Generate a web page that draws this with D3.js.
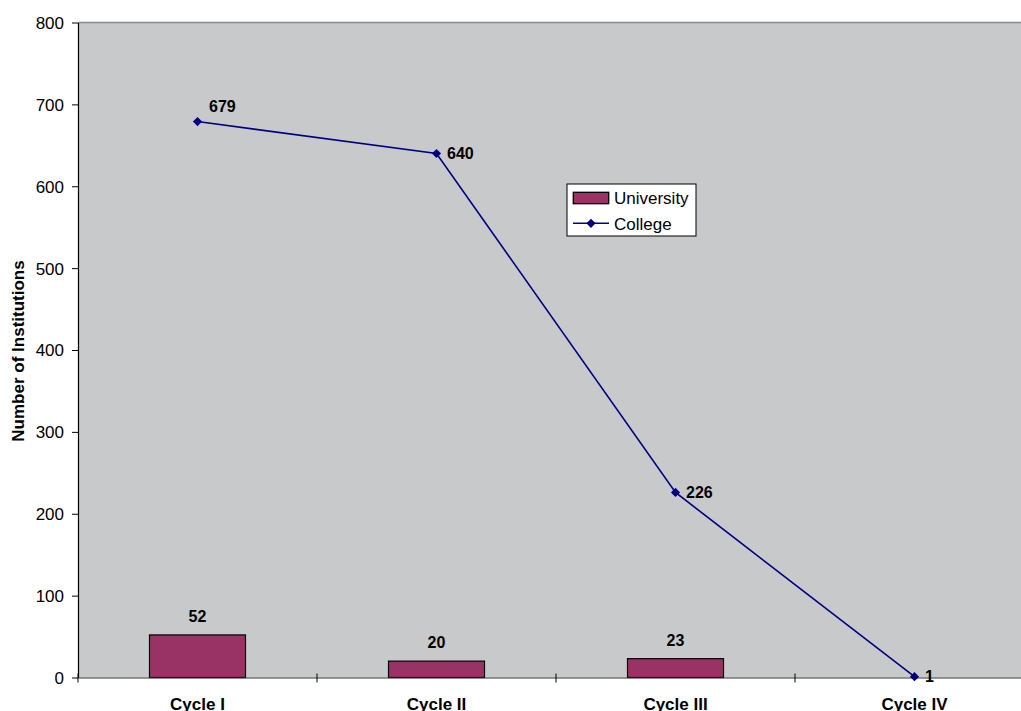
<!DOCTYPE html>
<html><head><meta charset="utf-8">
<script src="https://cdn.jsdelivr.net/npm/d3@7"></script>
<style>body{margin:0;background:#fff}svg{display:block}</style>
</head><body>
<script>
const categories = ["Cycle I","Cycle II","Cycle III","Cycle IV"];
const university = [52,20,23,0];
const college = [679,640,226,1];
const yTicks = [0,100,200,300,400,500,600,700,800];

const W=1021,H=711;
const mLeft=78, mTop=22.5, plotW=956, plotH=655;
const FF="'Liberation Sans', Arial, sans-serif";
const svg=d3.select("body").append("svg").attr("width",W).attr("height",H)
  .style("font-family",FF);

const xb=d3.scaleBand().domain(categories).range([mLeft,mLeft+plotW]);
const y=d3.scaleLinear().domain([0,800]).range([mTop+plotH,mTop]);
const diamond="M0,-4.6L4.6,0L0,4.6L-4.6,0Z";

svg.append("rect").attr("x",mLeft).attr("y",mTop).attr("width",plotW).attr("height",plotH).attr("fill","#c8c9cb");
svg.append("line").attr("x1",mLeft).attr("x2",mLeft+plotW).attr("y1",mTop).attr("y2",mTop).attr("stroke","#8c8c8c").attr("stroke-width",1.5);

const barData=categories.map((c,i)=>({c,v:university[i]})).filter(d=>d.v>0);
svg.selectAll("rect.bar").data(barData).enter().append("rect")
  .attr("class","bar")
  .attr("x",d=>xb(d.c)+xb.bandwidth()/2-48).attr("width",96)
  .attr("y",d=>y(d.v)).attr("height",d=>y(0)-y(d.v))
  .attr("fill","#993366").attr("stroke","#000").attr("stroke-width",1.2);
svg.selectAll("text.blab").data(barData).enter().append("text")
  .attr("x",d=>xb(d.c)+xb.bandwidth()/2).attr("y",d=>y(d.v)-13)
  .attr("text-anchor","middle").attr("font-weight","bold").attr("font-size",16).text(d=>d.v);

const ya=svg.append("g").attr("transform",`translate(${mLeft},0)`)
  .call(d3.axisLeft(y).tickValues(yTicks).tickSize(6).tickSizeOuter(0));
ya.select(".domain").attr("stroke","#000").attr("stroke-width",1.2);
ya.selectAll(".tick line").attr("stroke","#000");
ya.selectAll(".tick text").attr("font-size",17).attr("font-family",FF).attr("fill","#000").attr("x",-14).attr("dy","0.35em");

const xa=svg.append("g").attr("transform",`translate(0,${y(0)})`)
  .call(d3.axisBottom(xb).tickSize(0).tickSizeOuter(0));
xa.select(".domain").attr("stroke","#333").attr("stroke-width",1.2);
xa.selectAll(".tick text").attr("font-size",17).attr("font-weight","bold").attr("font-family",FF).attr("fill","#000").attr("dy",0).attr("y",32.5);
svg.selectAll("line.sep").data(categories).enter().append("line")
  .attr("x1",d=>xb(d)).attr("x2",d=>xb(d)).attr("y1",y(0)-4).attr("y2",y(0)+5).attr("stroke","#000");

const pts=categories.map((c,i)=>[xb(c)+xb.bandwidth()/2,y(college[i]),college[i]]);
svg.append("path").attr("d",d3.line()(pts.map(p=>[p[0],p[1]]))).attr("fill","none").attr("stroke","#000080").attr("stroke-width",1.6);
svg.selectAll("path.m").data(pts).enter().append("path")
  .attr("d",diamond).attr("transform",d=>`translate(${d[0]},${d[1]})`).attr("fill","#000080");
svg.selectAll("text.llab").data(pts).enter().append("text")
  .attr("x",(d,i)=>d[0]+(i===0?11.5:10.5)).attr("y",(d,i)=>i===0?d[1]-9.3:d[1]+5.8)
  .attr("font-weight","bold").attr("font-size",16).text(d=>d[2]);

svg.append("text").attr("transform","translate(24,351) rotate(-90)").attr("text-anchor","middle")
  .attr("font-weight","bold").attr("font-size",17).text("Number of Institutions");

const lg=svg.append("g").attr("transform","translate(567,184)");
lg.append("rect").attr("width",129).attr("height",52).attr("fill","#fff").attr("stroke","#000").attr("stroke-width",1);
lg.append("rect").attr("x",6.3).attr("y",8.3).attr("width",35.4).attr("height",11.4).attr("fill","#993366").attr("stroke","#000").attr("stroke-width",1.3);
lg.append("text").attr("x",47).attr("y",20.3).attr("font-size",17).text("University");
lg.append("line").attr("x1",6).attr("x2",42).attr("y1",39.3).attr("y2",39.3).attr("stroke","#000080").attr("stroke-width",1.6);
lg.append("path").attr("d",diamond).attr("transform","translate(24,39.3)").attr("fill","#000080");
lg.append("text").attr("x",47).attr("y",45.5).attr("font-size",17).text("College");
</script>
</body></html>
